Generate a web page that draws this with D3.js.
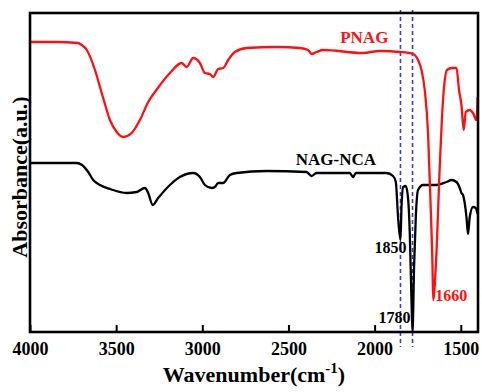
<!DOCTYPE html>
<html>
<head>
<meta charset="utf-8">
<script src="https://cdn.jsdelivr.net/npm/d3@7"></script>
<style>
  body { margin: 0; background: #fff; }
  svg text { font-family: "Liberation Serif", "Times New Roman", serif; font-weight: bold; }
</style>
</head>
<body>
<svg id="ftir" width="482" height="392"></svg>
<script>
// wavenumber (cm-1) and relative signal
var pnagWave = [4000, 3855, 3722, 3700, 3670, 3623, 3577, 3536, 3497, 3459, 3410, 3362, 3314, 3258,
    3188, 3120, 3091, 3053, 3014, 2985, 2956, 2937, 2908, 2879, 2850, 2811, 2743, 2569, 2434, 2386,
    2366, 2337, 2299, 2069, 1970, 1854, 1777, 1748, 1728, 1709, 1690, 1676, 1664, 1660, 1645, 1622,
    1603, 1580, 1552, 1525, 1510, 1496, 1483, 1471, 1448, 1429, 1409, 1402];
var pnagValue = [290, 290, 289, 287, 282, 262, 235, 212, 200, 195, 199, 212, 230, 244,
    259, 269, 265, 274, 269, 259, 258, 255, 263, 264, 272, 280, 284, 285, 284, 282,
    278, 280, 282, 279, 281, 280, 278, 272, 262, 242, 199, 132, 65, 32, 65, 165,
    232, 262, 264, 264, 242, 227, 202, 220, 222, 219, 212, 235];

var ncaWave = [4000, 3729, 3698, 3662, 3633, 3594, 3536, 3439, 3381, 3333, 3314, 3288, 3256, 3188,
    3130, 3053, 3014, 2985, 2946, 2927, 2908, 2879, 2840, 2801, 2627, 2395, 2366, 2337, 2144, 2125,
    2109, 1931, 1893, 1877, 1864, 1850, 1844, 1834, 1819, 1805, 1796, 1786, 1780, 1771, 1761, 1748,
    1719, 1641, 1583, 1554, 1525, 1506, 1496, 1487, 1467, 1458, 1448, 1429, 1413, 1402];
var ncaValue = [169, 169, 167, 160, 152, 147, 143, 139, 140, 144, 139, 127, 134, 147,
    155, 159, 155, 147, 144, 145, 149, 149, 157, 159, 161, 160, 156, 159, 159, 155,
    159, 159, 156, 150, 115, 92, 125, 145, 146, 132, 99, 32, 0, 65, 115, 142,
    147, 147, 150, 152, 150, 144, 139, 137, 115, 98, 115, 125, 124, 118];

var xTicks = [4000, 3500, 3000, 2500, 2000, 1500];
var markedPeaks = [1850, 1780];

var svg = d3.select("svg#ftir"),
    margin = { top: 13, right: 4, bottom: 60, left: 30 },
    width = +svg.attr("width") - margin.left - margin.right,
    height = +svg.attr("height") - margin.top - margin.bottom;

var x = d3.scaleLinear().domain([4000, 1400]).range([0, width]);
var y = d3.scaleLinear().domain([0, 319]).range([height, 0]);

var g = svg.append("g")
    .attr("transform", "translate(" + margin.left + "," + margin.top + ")");

// dashed guides for the NCA anhydride bands
g.selectAll(".guide")
    .data(markedPeaks)
    .enter()
    .append("line")
    .attr("class", "guide")
    .attr("x1", function (d) { return x(d); })
    .attr("x2", function (d) { return x(d); })
    .attr("y1", -3)
    .attr("y2", height + 15)
    .attr("stroke", "#3a3ad6")
    .attr("stroke-width", 1.6)
    .attr("stroke-dasharray", "4,3");

var line = d3.line()
    .x(function (d) { return x(d[0]); })
    .y(function (d) { return y(d[1]); })
    .curve(d3.curveMonotoneX);

g.append("path")
    .datum(d3.zip(ncaWave, ncaValue))
    .attr("fill", "none")
    .attr("stroke", "#000")
    .attr("stroke-width", 2.3)
    .attr("stroke-linejoin", "round")
    .attr("d", line);

g.append("path")
    .datum(d3.zip(pnagWave, pnagValue))
    .attr("fill", "none")
    .attr("stroke", "#ff1010")
    .attr("stroke-width", 2.3)
    .attr("stroke-linejoin", "round")
    .attr("d", line);

// x axis, ticks pointing inward
var xAxis = g.append("g")
    .attr("transform", "translate(0," + height + ")")
    .call(d3.axisBottom(x).tickValues(xTicks).tickFormat(d3.format("d"))
        .tickSizeInner(-7).tickSizeOuter(0).tickPadding(10));

xAxis.select("path.domain").remove();
xAxis.selectAll(".tick line").attr("stroke", "#000").attr("stroke-width", 2);
xAxis.selectAll(".tick text")
    .style("font-size", "18px")
    .style("font-family", "'Liberation Serif', 'Times New Roman', serif")
    .style("font-weight", "bold")
    .attr("fill", "#000");

// frame
g.append("rect")
    .attr("width", width)
    .attr("height", height)
    .attr("fill", "none")
    .attr("stroke", "#000")
    .attr("stroke-width", 2.6);

// series labels
g.append("text")
    .attr("x", x(2060))
    .attr("y", y(289))
    .attr("text-anchor", "middle")
    .attr("fill", "#ff1010")
    .style("font-size", "17px")
    .text("PNAG");

g.append("text")
    .attr("x", x(2225))
    .attr("y", y(167))
    .attr("text-anchor", "middle")
    .attr("fill", "#000")
    .style("font-size", "17px")
    .text("NAG-NCA");

// peak labels
g.append("text")
    .attr("x", x(1850) + 6)
    .attr("y", y(92) + 13)
    .attr("text-anchor", "end")
    .style("font-size", "16px")
    .text("1850");

g.append("text")
    .attr("x", x(1780) - 2)
    .attr("y", y(0) - 9)
    .attr("text-anchor", "end")
    .style("font-size", "16px")
    .text("1780");

g.append("text")
    .attr("x", x(1660) + 2)
    .attr("y", y(32) + 1)
    .attr("fill", "#ff1010")
    .style("font-size", "16px")
    .text("1660");

// axis titles
var xTitle = svg.append("text")
    .attr("x", margin.left + width / 2)
    .attr("y", 382)
    .attr("text-anchor", "middle")
    .style("font-size", "22px");
xTitle.append("tspan").text("Wavenumber(cm");
xTitle.append("tspan").attr("dy", -9).style("font-size", "15px").text("-1");
xTitle.append("tspan").attr("dy", 9).text(")");

svg.append("text")
    .attr("transform", "rotate(-90)")
    .attr("x", -177)
    .attr("y", 27)
    .attr("text-anchor", "middle")
    .style("font-size", "22px")
    .text("Absorbance(a.u.)");
</script>
</body>
</html>
